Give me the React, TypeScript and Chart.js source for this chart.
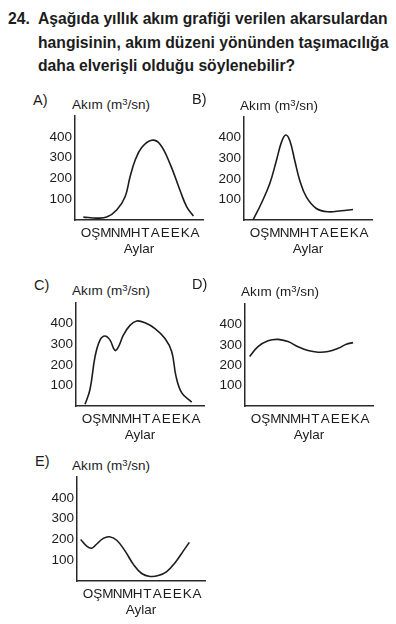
import React, { useEffect, useRef } from 'react';
import { Chart, registerables } from 'chart.js';

Chart.register(...registerables);

// ---- data ----
const months = ['O', 'Ş', 'M', 'N', 'M', 'H', 'T', 'A', 'E', 'E', 'K', 'A'];
const yTickValues = [100, 200, 300, 400];
const yAxisLabel = 'Akım (m';
const yAxisUnitTail = '/sn)';
const xAxisLabel = 'Aylar';

const questionNo = '24.';
const questionLines = [
  'Aşağıda yıllık akım grafiği verilen akarsulardan',
  'hangisinin, akım düzeni yönünden taşımacılığa',
  'daha elverişli olduğu söylenebilir?',
];

// month position (0 = O ... 11 = A) and flow (m3/sn)
const aMonth = [-0.26, 1.09, 2.1, 3.1, 3.94, 4.44, 4.95, 5.62, 6.63, 7.47, 8.48, 9.48, 10.16, 10.83];
const aFlow = [14, 9, 14, 48, 111, 206, 286, 349, 384, 365, 270, 143, 63, 19];

const bMonth = [-0.19, 0.64, 1.49, 2.16, 2.66, 3.1, 3.52, 4.02, 4.52, 5.18, 6.19, 7.37, 8.71, 9.89];
const bFlow = [0, 80, 176, 288, 376, 413, 385, 288, 192, 112, 56, 40, 45, 51];

const cMonth = [-0.19, 0.31, 0.82, 1.32, 1.82, 2.33, 2.83, 3.2, 3.67, 4.34, 5.02, 5.86, 6.86, 7.87, 8.55, 8.98, 9.56, 10.56];
const cFlow = [8, 80, 240, 320, 340, 320, 270, 290, 344, 392, 413, 404, 376, 328, 264, 144, 64, 19];

const dMonth = [-0.63, 0.21, 1.22, 2.23, 3.23, 4.24, 5.25, 6.26, 7.27, 8.28, 9.11, 9.79];
const dFlow = [243, 291, 320, 327, 316, 291, 272, 264, 267, 283, 303, 311];

const eMonth = [-0.73, -0.12, 0.38, 0.89, 1.55, 2.16, 2.9, 3.74, 4.58, 5.42, 6.26, 7.1, 7.94, 8.78, 9.62, 10.22];
const eFlow = [200, 168, 158, 178, 205, 213, 196, 145, 80, 36, 22, 26, 45, 88, 145, 186];

// ---- layout ----
const FONT = '"Liberation Sans", Arial, Helvetica, sans-serif';
const INK = '#1c1c1c';
const Y_W = 40;
const PLOT_W = 128;
const PAD_T = 10;
const PAD_R = 4;
const X_H = 41;

type Panel = {
  tag: string;
  months: number[];
  flow: number[];
  plotLeft: number;
  plotTop: number;
  plotBottom: number;
  tagLeft: number;
  tagCy: number;
  titleLeft: number;
  titleCy: number;
};

const panels: Panel[] = [
  { tag: 'A)', months: aMonth, flow: aFlow, plotLeft: 75, plotTop: 115, plotBottom: 220, tagLeft: 33, tagCy: 100, titleLeft: 72, titleCy: 105 },
  { tag: 'B)', months: bMonth, flow: bFlow, plotLeft: 244, plotTop: 116, plotBottom: 220, tagLeft: 192, tagCy: 99, titleLeft: 240, titleCy: 106 },
  { tag: 'C)', months: cMonth, flow: cFlow, plotLeft: 76, plotTop: 302, plotBottom: 406, tagLeft: 34, tagCy: 285, titleLeft: 72, titleCy: 291 },
  { tag: 'D)', months: dMonth, flow: dFlow, plotLeft: 245, plotTop: 303, plotBottom: 406, tagLeft: 192, tagCy: 284, titleLeft: 241, titleCy: 292 },
  { tag: 'E)', months: eMonth, flow: eFlow, plotLeft: 77, plotTop: 476, plotBottom: 581, tagLeft: 35, tagCy: 461, titleLeft: 72, titleCy: 466 },
];

function FlowChart({ p }: { p: Panel }) {
  const ref = useRef<HTMLCanvasElement | null>(null);
  const plotH = p.plotBottom - p.plotTop;
  const w = Y_W + PLOT_W + PAD_R;
  const h = PAD_T + plotH + X_H;

  useEffect(() => {
    if (!ref.current) return;
    const chart = new Chart(ref.current, {
      type: 'line',
      data: {
        datasets: [
          {
            data: p.months.map((m, i) => ({ x: m, y: p.flow[i] })),
            borderColor: INK,
            borderWidth: 1.6,
            pointRadius: 0,
            tension: 0.4,
            fill: false,
          },
        ],
      },
      options: {
        animation: false,
        responsive: false,
        devicePixelRatio: 1,
        layout: { padding: { top: PAD_T, right: PAD_R, left: 0, bottom: 0 } },
        plugins: { legend: { display: false }, tooltip: { enabled: false }, title: { display: false } },
        scales: {
          x: {
            type: 'linear',
            min: -1.1,
            max: 11.8,
            afterBuildTicks: (s: any) => {
              s.ticks = months.map((_, i) => ({ value: i }));
            },
            afterFit: (s: any) => {
              s.height = X_H;
            },
            grid: { display: false, drawTicks: false },
            border: { display: true, color: '#2a2a2a', width: 1.5 },
            ticks: {
              autoSkip: false,
              maxRotation: 0,
              minRotation: 0,
              padding: 5,
              color: INK,
              font: { family: FONT, size: 13.5 },
              callback: (v: any) => months[Number(v)] ?? '',
            },
            title: {
              display: true,
              text: xAxisLabel,
              color: INK,
              font: { family: FONT, size: 13.5 },
              padding: { top: 0, bottom: 4 },
            },
          },
          y: {
            type: 'linear',
            min: 0,
            max: 500,
            afterBuildTicks: (s: any) => {
              s.ticks = yTickValues.map((v) => ({ value: v }));
            },
            afterFit: (s: any) => {
              s.width = Y_W;
            },
            grid: { display: false, drawTicks: false },
            border: { display: true, color: '#2a2a2a', width: 1.5 },
            ticks: {
              padding: 3,
              color: INK,
              font: { family: FONT, size: 13.5 },
            },
          },
        },
      } as any,
    });
    return () => chart.destroy();
  }, []);

  return (
    <>
      <div
        style={{
          position: 'absolute',
          left: p.tagLeft,
          top: p.tagCy - 8,
          lineHeight: '16px',
          fontSize: 14.5,
          fontFamily: FONT,
          color: INK,
        }}
      >
        {p.tag}
      </div>
      <div
        style={{
          position: 'absolute',
          left: p.titleLeft,
          top: p.titleCy - 8,
          lineHeight: '16px',
          fontSize: 13.5,
          fontFamily: FONT,
          color: INK,
          whiteSpace: 'nowrap',
        }}
      >
        {yAxisLabel}
        <sup style={{ fontSize: 9.5, lineHeight: 0, verticalAlign: '4px' }}>3</sup>
        {yAxisUnitTail}
      </div>
      <canvas
        ref={ref}
        width={w}
        height={h}
        style={{
          position: 'absolute',
          left: p.plotLeft - Y_W,
          top: p.plotTop - PAD_T,
          width: w,
          height: h,
        }}
      />
    </>
  );
}

export default function App() {
  return (
    <div
      style={{
        position: 'absolute',
        left: 0,
        top: 0,
        width: 396,
        height: 624,
        background: '#fff',
        overflow: 'hidden',
        fontFamily: FONT,
        color: INK,
      }}
    >
      <div
        style={{
          position: 'absolute',
          left: 8,
          top: 7,
          fontSize: 15.7,
          fontWeight: 700,
          lineHeight: '23.5px',
        }}
      >
        {questionNo}
      </div>
      <div
        style={{
          position: 'absolute',
          left: 38,
          top: 7,
          fontSize: 15.7,
          fontWeight: 700,
          lineHeight: '23.5px',
          whiteSpace: 'nowrap',
        }}
      >
        {questionLines.map((l, i) => (
          <div key={i}>{l}</div>
        ))}
      </div>
      {panels.map((p) => (
        <FlowChart key={p.tag} p={p} />
      ))}
    </div>
  );
}
